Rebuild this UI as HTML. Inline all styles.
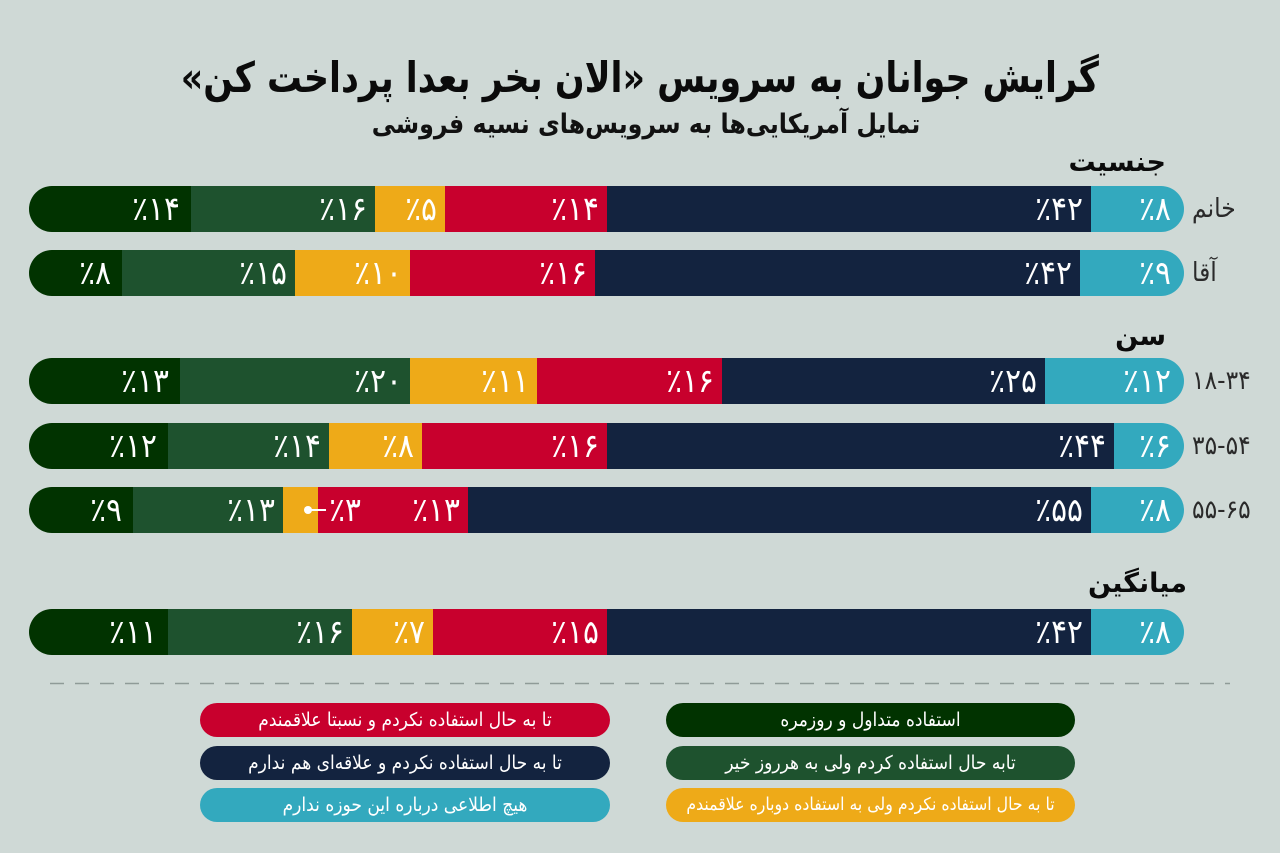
<!DOCTYPE html>
<html lang="fa">
<head>
<meta charset="utf-8">
<style>
  html,body{margin:0;padding:0;}
  body{width:1280px;height:853px;background:#cfd9d6;position:relative;overflow:hidden;
       font-family:"DejaVu Sans","Noto Sans CJK SC",sans-serif;}
  .title{position:absolute;left:0;width:1280px;top:50px;text-align:center;font-weight:bold;
         font-size:42px;line-height:56px;color:#0b0b0b;direction:rtl;transform:scaleX(0.83);transform-origin:639px 0;}
  .sub{position:absolute;left:0;width:1280px;top:105px;text-align:center;font-weight:bold;
       font-size:27px;line-height:40px;color:#111;direction:rtl;transform:scaleX(0.88);transform-origin:646px 0;padding-left:12px;box-sizing:border-box;}
  .sec{position:absolute;font-weight:bold;font-size:27px;line-height:36px;color:#0b0b0b;direction:rtl;text-align:right;}
  .row{position:absolute;left:29px;width:1155px;height:46px;border-radius:23px;overflow:hidden;}
  .seg{position:absolute;top:0;height:46px;}
  .lab{position:absolute;top:0;right:8px;line-height:46px;color:#fff;font-size:33px;
       font-family:"DejaVu Sans Condensed","DejaVu Sans",sans-serif;font-stretch:condensed;
       direction:ltr;unicode-bidi:bidi-override;white-space:nowrap;}
  .c1{background:#013300;}
  .c2{background:#1e522e;}
  .c3{background:#eeaa18;}
  .c4{background:#c8002d;}
  .c5{background:#13233f;}
  .c6{background:#33a9be;}
  .rl{position:absolute;left:1192px;height:46px;line-height:46px;font-size:26px;color:#2a2a2a;
      font-family:"DejaVu Sans Condensed","DejaVu Sans",sans-serif;font-stretch:condensed;white-space:nowrap;}
  .ltr{direction:ltr;unicode-bidi:bidi-override;}
  .pill{position:absolute;height:34px;border-radius:17px;color:#fff;text-align:center;line-height:34px;
        font-size:19px;direction:rtl;white-space:nowrap;overflow:hidden;
        font-family:"DejaVu Sans Condensed","DejaVu Sans",sans-serif;font-stretch:condensed;}
</style>
</head>
<body>

<div class="title">گرایش جوانان به سرویس «الان بخر بعدا پرداخت کن»</div>
<div class="sub">تمایل آمریکایی&zwnj;ها به سرویس&zwnj;های نسیه فروشی</div>

<div class="sec" style="right:114px;top:145px;">جنسیت</div>
<div class="sec" style="right:114px;top:319px;">سن</div>
<div class="sec" style="right:93px;top:566px;">میانگین</div>

<!-- Female -->
<div class="row" style="top:186px;">
  <div class="seg c1" style="left:0;width:162px;"><span class="lab" style="right:11px">٪۱۴</span></div>
  <div class="seg c2" style="left:162px;width:184px;"><span class="lab">٪۱۶</span></div>
  <div class="seg c3" style="left:346px;width:70px;"><span class="lab">٪۵</span></div>
  <div class="seg c4" style="left:416px;width:162px;"><span class="lab">٪۱۴</span></div>
  <div class="seg c5" style="left:578px;width:484px;"><span class="lab">٪۴۲</span></div>
  <div class="seg c6" style="left:1062px;width:93px;"><span class="lab" style="right:13px">٪۸</span></div>
</div>
<div class="rl" style="top:186px;">خانم</div>

<!-- Male -->
<div class="row" style="top:250px;">
  <div class="seg c1" style="left:0;width:93px;"><span class="lab" style="right:11px">٪۸</span></div>
  <div class="seg c2" style="left:93px;width:173px;"><span class="lab">٪۱۵</span></div>
  <div class="seg c3" style="left:266px;width:115px;"><span class="lab">٪۱۰</span></div>
  <div class="seg c4" style="left:381px;width:185px;"><span class="lab">٪۱۶</span></div>
  <div class="seg c5" style="left:566px;width:485px;"><span class="lab">٪۴۲</span></div>
  <div class="seg c6" style="left:1051px;width:104px;"><span class="lab" style="right:13px">٪۹</span></div>
</div>
<div class="rl" style="top:250px;">آقا</div>

<!-- 18-34 -->
<div class="row" style="top:358px;">
  <div class="seg c1" style="left:0;width:151px;"><span class="lab" style="right:11px">٪۱۳</span></div>
  <div class="seg c2" style="left:151px;width:230px;"><span class="lab">٪۲۰</span></div>
  <div class="seg c3" style="left:381px;width:127px;"><span class="lab">٪۱۱</span></div>
  <div class="seg c4" style="left:508px;width:185px;"><span class="lab">٪۱۶</span></div>
  <div class="seg c5" style="left:693px;width:323px;"><span class="lab">٪۲۵</span></div>
  <div class="seg c6" style="left:1016px;width:139px;"><span class="lab" style="right:13px">٪۱۲</span></div>
</div>
<div class="rl ltr" style="top:358px;">۱۸-۳۴</div>

<!-- 35-54 -->
<div class="row" style="top:423px;">
  <div class="seg c1" style="left:0;width:139px;"><span class="lab" style="right:11px">٪۱۲</span></div>
  <div class="seg c2" style="left:139px;width:161px;"><span class="lab">٪۱۴</span></div>
  <div class="seg c3" style="left:300px;width:93px;"><span class="lab">٪۸</span></div>
  <div class="seg c4" style="left:393px;width:185px;"><span class="lab">٪۱۶</span></div>
  <div class="seg c5" style="left:578px;width:507px;"><span class="lab">٪۴۴</span></div>
  <div class="seg c6" style="left:1085px;width:70px;"><span class="lab" style="right:13px">٪۶</span></div>
</div>
<div class="rl ltr" style="top:423px;">۳۵-۵۴</div>

<!-- 55-65 -->
<div class="row" style="top:487px;">
  <div class="seg c1" style="left:0;width:104px;"><span class="lab" style="right:11px">٪۹</span></div>
  <div class="seg c2" style="left:104px;width:150px;"><span class="lab">٪۱۳</span></div>
  <div class="seg c3" style="left:254px;width:35px;"></div>
  <div class="seg c4" style="left:289px;width:150px;"><span class="lab">٪۱۳</span><span class="lab" style="right:107px">٪۳</span></div>
  <div class="seg c5" style="left:439px;width:623px;"><span class="lab">٪۵۵</span></div>
  <div class="seg c6" style="left:1062px;width:93px;"><span class="lab" style="right:13px">٪۸</span></div>
  <div style="position:absolute;left:275px;top:19px;width:8px;height:8px;border-radius:4px;background:#fff;"></div>
  <div style="position:absolute;left:279px;top:22px;width:18px;height:1.5px;background:#fff;"></div>
</div>
<div class="rl ltr" style="top:487px;">۵۵-۶۵</div>

<!-- Average -->
<div class="row" style="top:609px;">
  <div class="seg c1" style="left:0;width:139px;"><span class="lab" style="right:11px">٪۱۱</span></div>
  <div class="seg c2" style="left:139px;width:184px;"><span class="lab">٪۱۶</span></div>
  <div class="seg c3" style="left:323px;width:81px;"><span class="lab">٪۷</span></div>
  <div class="seg c4" style="left:404px;width:174px;"><span class="lab">٪۱۵</span></div>
  <div class="seg c5" style="left:578px;width:484px;"><span class="lab">٪۴۲</span></div>
  <div class="seg c6" style="left:1062px;width:93px;"><span class="lab" style="right:13px">٪۸</span></div>
</div>

<!-- dashed separator -->
<svg style="position:absolute;left:0;top:0" width="1280" height="853">
  <line x1="50" y1="683.5" x2="1230" y2="683.5" stroke="#8f9b98" stroke-width="1.5" stroke-dasharray="14 11"/>
</svg>

<!-- Legend -->
<div class="pill c4" style="left:200px;top:703px;width:410px;">تا به حال استفاده نکردم و نسبتا علاقمندم</div>
<div class="pill c5" style="left:200px;top:746px;width:410px;">تا به حال استفاده نکردم و علاقه&zwnj;ای هم ندارم</div>
<div class="pill c6" style="left:200px;top:788px;width:410px;">هیچ اطلاعی درباره این حوزه ندارم</div>
<div class="pill c1" style="left:666px;top:703px;width:409px;">استفاده متداول و روزمره</div>
<div class="pill c2" style="left:666px;top:746px;width:409px;">تابه حال استفاده کردم ولی به هرروز خیر</div>
<div class="pill c3" style="left:666px;top:788px;width:409px;font-size:17.5px;">تا به حال استفاده نکردم ولی به استفاده دوباره علاقمندم</div>

</body>
</html>
